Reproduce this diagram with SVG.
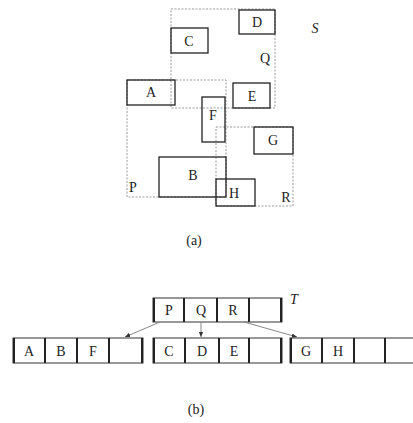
<svg xmlns="http://www.w3.org/2000/svg" width="413" height="423" viewBox="0 0 413 423">
<defs>
<style>
.t{font-family:"Liberation Serif","Times New Roman",serif;font-size:14px;fill:#222;text-anchor:middle}
.it{font-style:italic}
.box{fill:none;stroke:#222;stroke-width:1.3}
.mbr{fill:none;stroke:#999;stroke-width:1;stroke-dasharray:2 1.5}
.cell{fill:none;stroke:#333;stroke-width:1}
.bar{stroke:#222;stroke-width:2}
.arr{stroke:#888;stroke-width:1;fill:none}
</style>
<marker id="ah" viewBox="0 0 8 8" refX="7" refY="4" markerWidth="6" markerHeight="6" orient="auto">
<path d="M0,1 L7,4 L0,7 Z" fill="#333"/>
</marker>
</defs>
<rect width="413" height="423" fill="#fff"/>

<g id="mbr-P"><rect class="mbr" x="127" y="80" width="99" height="117"/><text class="t" x="133" y="192">P</text></g>
<g id="mbr-Q"><rect class="mbr" x="171" y="9" width="104" height="99"/><text class="t" x="265" y="63">Q</text></g>
<g id="mbr-R"><rect class="mbr" x="216" y="127" width="77" height="79"/><text class="t" x="286" y="202">R</text></g>
<g id="label-S"><text class="t it" x="315" y="33">S</text></g>

<g id="A"><rect class="box" x="127" y="80" width="48" height="25"/><text class="t" x="151" y="97">A</text></g>
<g id="C"><rect class="box" x="171" y="28" width="37" height="25"/><text class="t" x="189" y="46">C</text></g>
<g id="D"><rect class="box" x="239" y="10" width="36" height="24"/><text class="t" x="257" y="27">D</text></g>
<g id="E"><rect class="box" x="233" y="83" width="37" height="25"/><text class="t" x="252" y="101">E</text></g>
<g id="F"><rect class="box" x="202" y="97" width="23" height="45"/><text class="t" x="213" y="120">F</text></g>
<g id="G"><rect class="box" x="254" y="127" width="39" height="27"/><text class="t" x="273" y="145">G</text></g>
<g id="B"><rect class="box" x="159" y="157" width="67" height="40"/><text class="t" x="193" y="180">B</text></g>
<g id="H"><rect class="box" x="216" y="179" width="39" height="27"/><text class="t" x="234" y="198">H</text></g>

<text class="t" x="194" y="245">(a)</text>

<g id="T">
<rect class="cell" x="153" y="298" width="129" height="24"/>
<line class="bar" x1="154" y1="298" x2="154" y2="322"/>
<line class="bar" x1="184" y1="298" x2="184" y2="322"/>
<line class="bar" x1="217" y1="298" x2="217" y2="322"/>
<line class="bar" x1="249" y1="298" x2="249" y2="322"/>
<line class="bar" x1="281" y1="298" x2="281" y2="322"/>
<text class="t" x="169" y="315">P</text><text class="t" x="201" y="315">Q</text><text class="t" x="233" y="315">R</text>
<text class="t it" x="294" y="304">T</text>
</g>

<g id="leaf1">
<rect class="cell" x="13" y="338" width="130" height="25"/>
<line class="bar" x1="14" y1="338" x2="14" y2="363"/>
<line class="bar" x1="45" y1="338" x2="45" y2="363"/>
<line class="bar" x1="77" y1="338" x2="77" y2="363"/>
<line class="bar" x1="109" y1="338" x2="109" y2="363"/>
<line class="bar" x1="142" y1="338" x2="142" y2="363"/>
<text class="t" x="29" y="356">A</text><text class="t" x="61" y="356">B</text><text class="t" x="93" y="356">F</text>
</g>
<g id="leaf2">
<rect class="cell" x="153" y="338" width="129" height="25"/>
<line class="bar" x1="154" y1="338" x2="154" y2="363"/>
<line class="bar" x1="185" y1="338" x2="185" y2="363"/>
<line class="bar" x1="219" y1="338" x2="219" y2="363"/>
<line class="bar" x1="249" y1="338" x2="249" y2="363"/>
<line class="bar" x1="281" y1="338" x2="281" y2="363"/>
<text class="t" x="169" y="356">C</text><text class="t" x="202" y="356">D</text><text class="t" x="234" y="356">E</text>
</g>
<g id="leaf3">
<rect class="cell" x="290" y="338" width="130" height="25"/>
<line class="bar" x1="291" y1="338" x2="291" y2="363"/>
<line class="bar" x1="322" y1="338" x2="322" y2="363"/>
<line class="bar" x1="354" y1="338" x2="354" y2="363"/>
<line class="bar" x1="385" y1="338" x2="385" y2="363"/>
<text class="t" x="306" y="356">G</text><text class="t" x="338" y="356">H</text>
</g>

<g id="connectors">
<line class="arr" x1="160" y1="322" x2="125" y2="337" marker-end="url(#ah)"/>
<line class="arr" x1="201" y1="322" x2="201" y2="337" marker-end="url(#ah)"/>
<line class="arr" x1="244" y1="322" x2="297" y2="337" marker-end="url(#ah)"/>
</g>

<text class="t" x="196" y="414">(b)</text>
</svg>
